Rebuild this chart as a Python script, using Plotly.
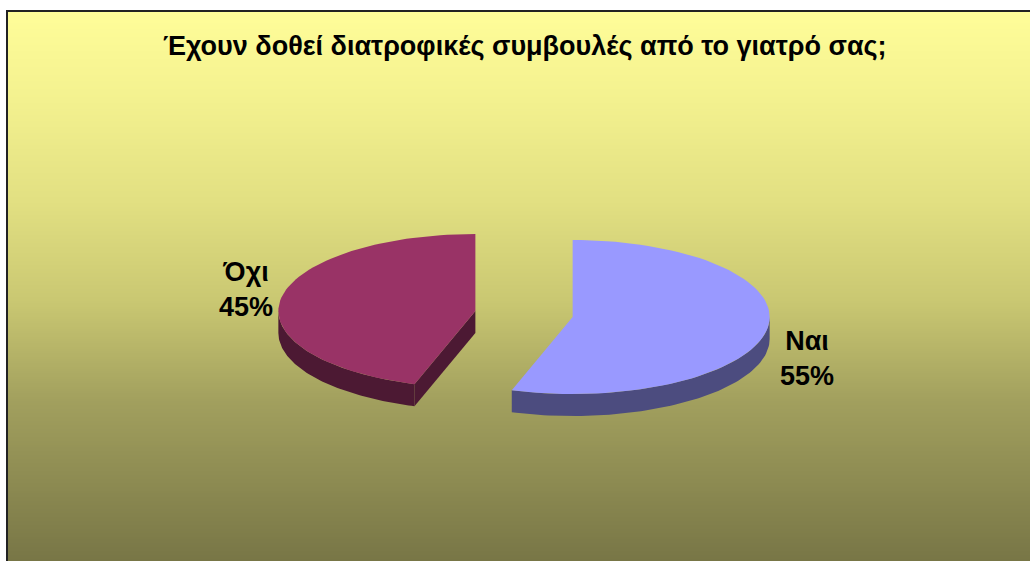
import numpy as np
import plotly.graph_objects as go

# ---- data ----
title = "Έχουν δοθεί διατροφικές συμβουλές από το γιατρό σας;"
labels = ["Ναι", "Όχι"]
values = [55, 45]
colors = ["#9999FF", "#993366"]
side_colors = ["#4C4C7F", "#4C1933"]

# ---- geometry (pixel space) ----
W, H = 1030, 561
CX, CY = 524, 314
RX, RY = 197, 77
DEPTH = 22
EXPLODE = 0.25
FONT = "Liberation Sans, Arial, sans-serif"

fig = go.Figure()

# gradient background
stops_y = [11, 100, 200, 300, 400, 561]
stops_c = [(255, 253, 153), (243, 241, 143), (226, 224, 130), (202, 200, 114), (162, 160, 94), (120, 118, 70)]
shapes = []
step = 2
for y0 in range(11, H, step):
    ym = y0 + step / 2
    c = [int(round(np.interp(ym, stops_y, [s[k] for s in stops_c]))) for k in range(3)]
    shapes.append(dict(type="rect", xref="x", yref="y", x0=7, x1=W, y0=y0, y1=y0 + step + 0.6,
                       fillcolor=f"rgb({c[0]},{c[1]},{c[2]})", line=dict(width=0), layer="below"))
# border (top and left visible)
shapes.append(dict(type="line", xref="x", yref="y", x0=7, x1=W, y0=11, y1=11,
                   line=dict(color="#222222", width=2), layer="below"))
shapes.append(dict(type="line", xref="x", yref="y", x0=7, x1=7, y0=10, y1=H,
                   line=dict(color="#222222", width=2), layer="below"))

total = sum(values)
angles = np.cumsum([0] + [v / total * 360 for v in values])


def pt(cx, cy, a, dz=0):
    r = np.radians(a)
    return cx + RX * np.sin(r), cy - RY * np.cos(r) + dz


def arc(cx, cy, a0, a1, dz=0, n=80):
    t = np.linspace(a0, a1, n)
    r = np.radians(t)
    return list(cx + RX * np.sin(r)), list(cy - RY * np.cos(r) + dz)


tops = []
for i, (lab, v) in enumerate(zip(labels, values)):
    a0, a1 = angles[i], angles[i + 1]
    mid = np.radians((a0 + a1) / 2)
    cx = CX + EXPLODE * RX * np.sin(mid)
    cy = CY - EXPLODE * RY * np.cos(mid)
    # cut faces
    for a, normal in ((a0, a0 - 90), (a1, a1 + 90)):
        if np.cos(np.radians(normal)) < -1e-6:
            ex, ey = pt(cx, cy, a)
            fig.add_trace(go.Scatter(x=[cx, ex, ex, cx, cx], y=[cy, ey, ey + DEPTH, cy + DEPTH, cy],
                                     fill="toself", fillcolor=side_colors[i], mode="lines",
                                     line=dict(width=0), hoverinfo="skip"))
    # rim
    s0, s1 = max(a0, 90), min(a1, 270)
    if s1 > s0:
        xt, yt = arc(cx, cy, s0, s1)
        xb, yb = arc(cx, cy, s1, s0, DEPTH)
        fig.add_trace(go.Scatter(x=xt + xb + [xt[0]], y=yt + yb + [yt[0]], fill="toself",
                                 fillcolor=side_colors[i], mode="lines", line=dict(width=0),
                                 hoverinfo="skip"))
    xt, yt = arc(cx, cy, a0, a1)
    tops.append(go.Scatter(x=[cx] + xt + [cx], y=[cy] + yt + [cy], fill="toself",
                           fillcolor=colors[i], mode="lines", line=dict(width=0),
                           name=lab, hoverinfo="skip"))
for t in tops:
    fig.add_trace(t)

# labels
label_pos = [(807, 358), (246, 289)]
annotations = [dict(text=f"<b>{title}</b>", x=525, y=46, xref="x", yref="y", showarrow=False,
                    font=dict(family=FONT, size=27, color="black"), xanchor="center", yanchor="middle")]
for i, (lab, v) in enumerate(zip(labels, values)):
    pct = round(v / total * 100)
    annotations.append(dict(text=f"<b>{lab}<br>{pct}%</b>", x=label_pos[i][0], y=label_pos[i][1],
                            xref="x", yref="y", showarrow=False, align="center",
                            font=dict(family=FONT, size=27, color="black"),
                            xanchor="center", yanchor="middle"))

fig.update_layout(
    width=W, height=H, margin=dict(l=0, r=0, t=0, b=0),
    paper_bgcolor="white", plot_bgcolor="white", showlegend=False,
    xaxis=dict(range=[0, W], visible=False, fixedrange=True),
    yaxis=dict(range=[H, 0], visible=False, fixedrange=True),
    shapes=shapes, annotations=annotations,
)
fig.write_html("out.html")
